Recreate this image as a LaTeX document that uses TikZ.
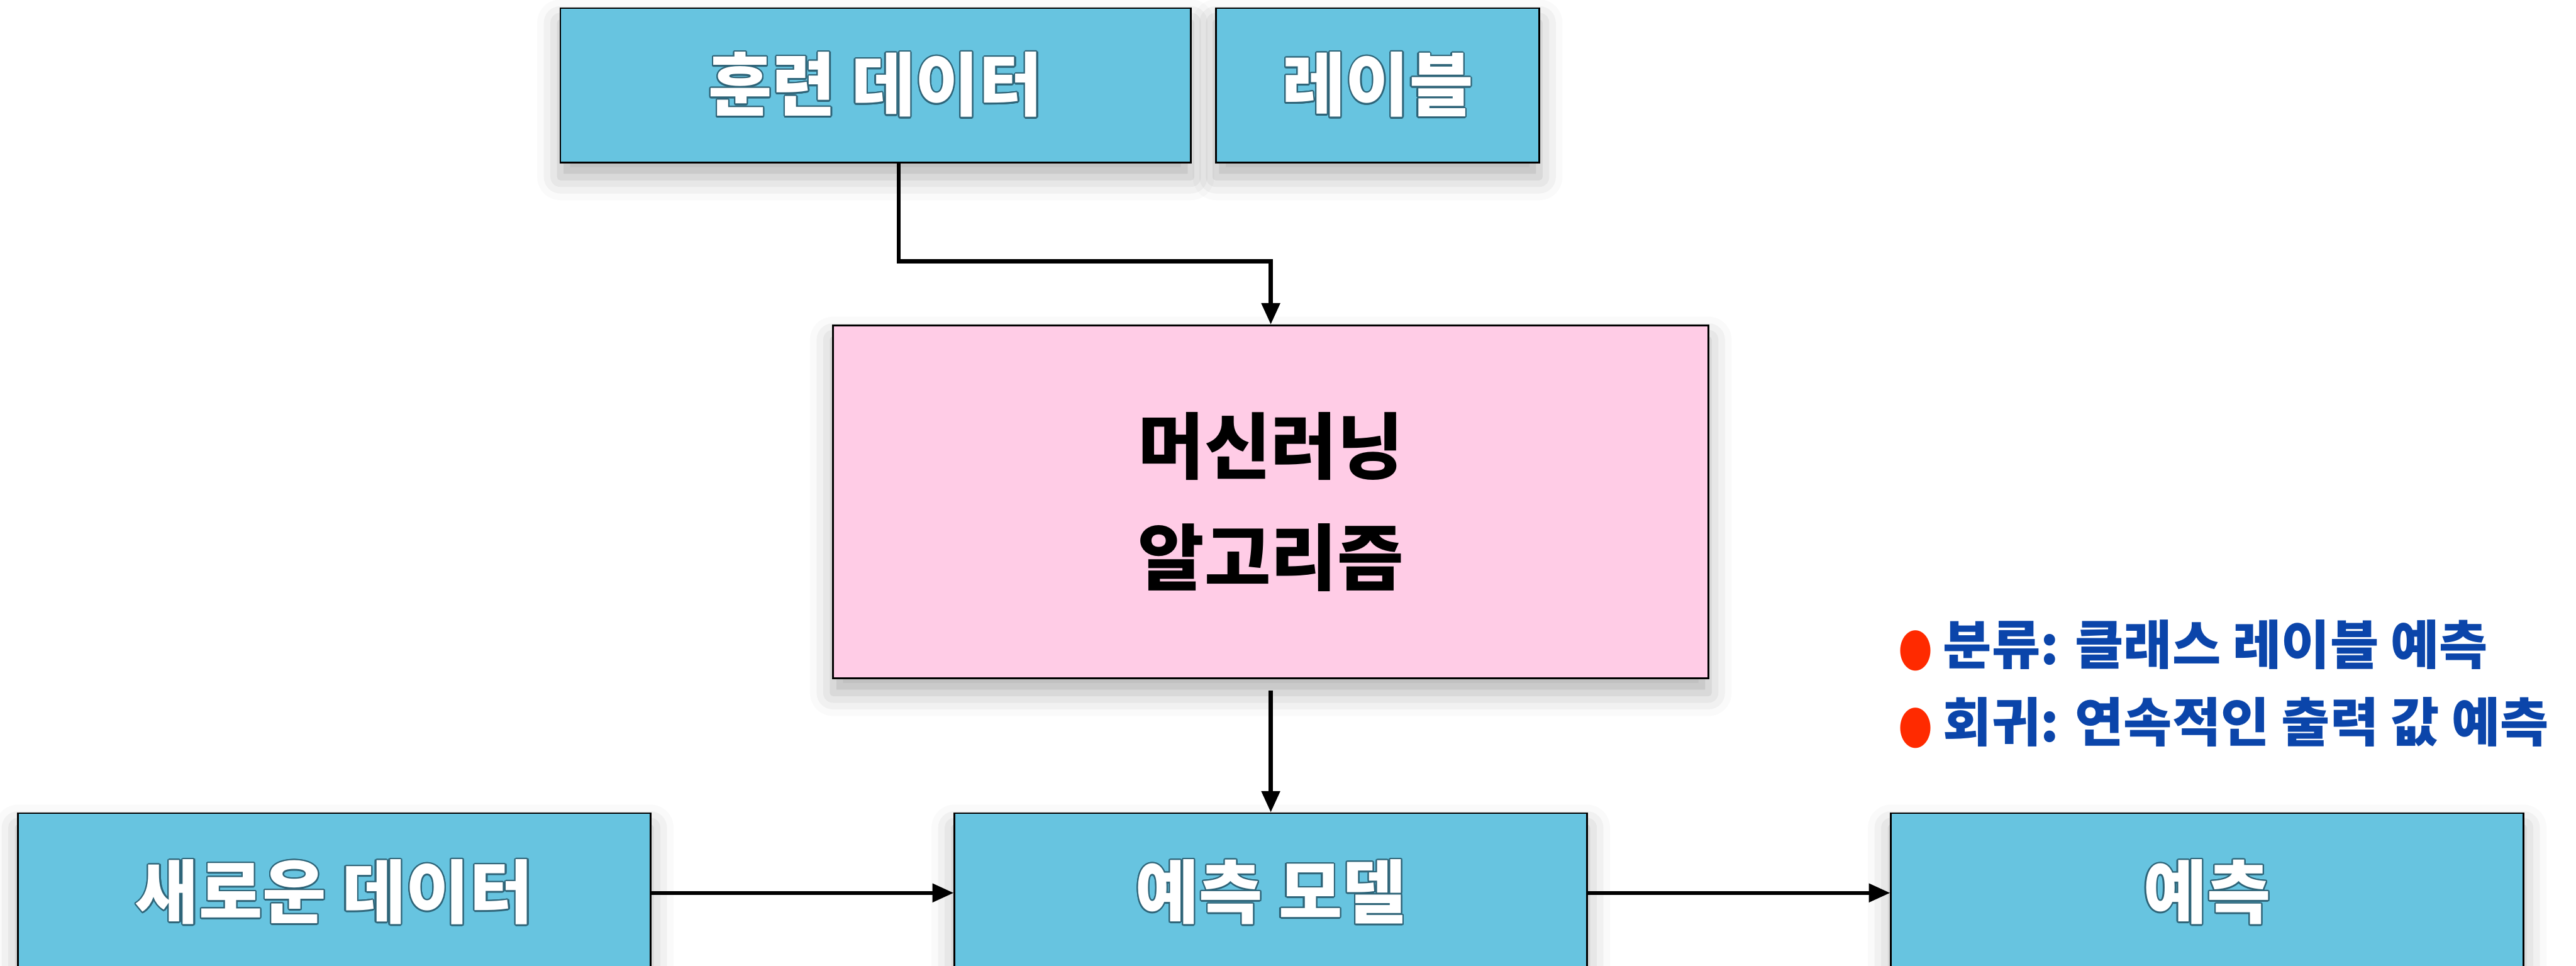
\documentclass[tikz,border=0pt]{standalone}
\usepackage{fontspec}
\usepackage{contour}
\setmainfont{Noto Sans CJK KR}
\newfontfamily\dejavu{DejaVu Sans}
\usetikzlibrary{arrows.meta,shadows.blur}
\definecolor{boxblue}{HTML}{67C4E0}
\definecolor{boxpink}{HTML}{FFCCE6}
\definecolor{outl}{HTML}{2E6478}
\definecolor{listblue}{HTML}{0B45AA}
\definecolor{bulletred}{HTML}{FF2A00}
\contourlength{0.5pt}
\tikzset{
  boxbase/.style={draw=black, line width=0.6pt, inner sep=0pt,
    blur shadow={shadow xshift=0pt, shadow yshift=-5pt, shadow blur radius=8pt, shadow opacity=30}},
  bluebox/.style={boxbase, fill=boxblue, text=white, font=\bfseries\fontsize{24}{28}\selectfont},
  pinkbox/.style={boxbase, fill=boxpink, text=black, align=center, font=\bfseries\fontsize{25}{38.7}\selectfont},
  arr/.style={-{Triangle[length=0.26cm,width=0.22cm]}, line width=1.4pt},
  listtext/.style={anchor=west, inner sep=0pt, text=listblue, font=\bfseries\fontsize{18.3}{22}\selectfont},
}
\newcommand{\bul}{\textcolor{bulletred}{\scalebox{0.75}[1]{\dejavu ●}}}
\begin{document}
\begin{tikzpicture}[x=0.02cm, y=-0.02cm]
\useasboundingbox (0,0) rectangle (1568,588);
% top row
\node[bluebox, minimum width=7.68cm, minimum height=1.88cm] (train) at (533,52) {\contour{outl}{훈련 데이터}};
\node[bluebox, minimum width=3.94cm, minimum height=1.88cm] (label) at (838.5,52) {\contour{outl}{레이블}};
% algorithm
\node[pinkbox, minimum width=10.66cm, minimum height=4.30cm] (algo) at (773.5,305.5) {머신러닝\\알고리즘};
% bottom row
\node[bluebox, minimum width=7.70cm, minimum height=1.94cm] (new) at (203.5,543.5) {\contour{outl}{새로운 데이터}};
\node[bluebox, minimum width=7.70cm, minimum height=1.94cm] (model) at (773.5,543.5) {\contour{outl}{예측 모델}};
\node[bluebox, minimum width=7.70cm, minimum height=1.94cm] (pred) at (1343.5,543.5) {\contour{outl}{예측}};
% list
\node[listtext] (cls) at (1155,393) {\bul\hspace{0.2em}분류: 클래스 레이블 예측};
\node[listtext] (reg) at (1155,440) {\bul\hspace{0.2em}회귀: 연속적인 출력 값 예측};
% connectors
\coordinate (j1) at (547,159);
\draw[arr] (train.south -| j1) -- (j1) -| (algo.north);
\draw[arr, shorten <=0.14cm] (algo.south) -- (model.north);
\draw[arr] (new.east) -- (model.west);
\draw[arr] (model.east) -- (pred.west);
\end{tikzpicture}
\end{document}
